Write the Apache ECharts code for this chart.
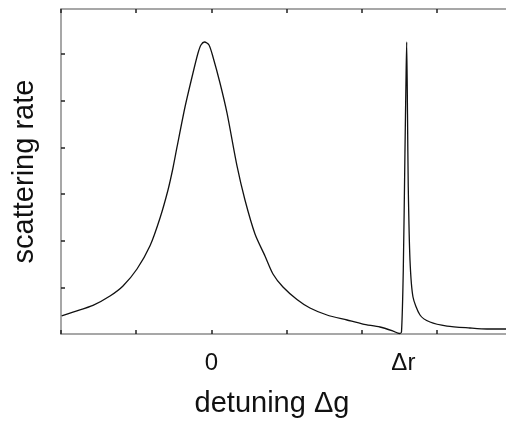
<!DOCTYPE html>
<html>
<head>
<meta charset="utf-8">
<script src="https://cdn.jsdelivr.net/npm/echarts@6/dist/echarts.min.js"></script>
<style>html,body{margin:0;padding:0;background:#fff}#c{width:506px;height:425px}</style>
</head>
<body>
<div id="c"></div>
<script>
// detuning (tick units) and scattering rate (arbitrary units)
const detuning = [-1.991,-1.841,-1.575,-1.349,-1.176,-0.990,-0.817,-0.684,-0.578,-0.512,-0.458,-0.352,-0.246,-0.179,-0.140,-0.093,-0.033,0.020,0.113,0.206,0.339,0.445,0.578,0.711,0.817,0.950,1.136,1.309,1.535,1.801,2.013,2.239,2.412,2.498,2.525,2.549,2.571,2.585,2.594,2.605,2.615,2.638,2.678,2.771,2.904,3.130,3.435,3.661,3.914];
const rate = [0.386,0.471,0.615,0.815,1.030,1.393,1.890,2.486,3.086,3.557,4.007,4.864,5.593,6.021,6.193,6.257,6.193,5.936,5.378,4.736,3.600,2.871,2.143,1.671,1.286,1.007,0.740,0.557,0.407,0.300,0.214,0.150,0.064,0.011,0.043,1.371,3.879,5.443,6.257,4.714,3.150,1.586,0.793,0.407,0.257,0.171,0.129,0.107,0.107];
const xTicks = [-2,-1,0,1,2,3];
const xLabelValues = [0, 2.55];
const xLabelTexts = ['0', 'Δr'];
const yTicks = [1,2,3,4,5,6];

const font = "'Liberation Sans', Arial, sans-serif";
const axisLineStyle = {color:'#8a8a8a', width:1.5};
const tickStyle = {color:'#222', width:1.5};
const chart = echarts.init(document.getElementById('c'));
chart.setOption({
  animation:false,
  grid:{left:61, right:0, top:9, bottom:91},
  xAxis:[{
    type:'value', min:-2, max:3.914, position:'bottom',
    axisLine:{show:true, onZero:false, lineStyle:axisLineStyle},
    axisTick:{show:true, inside:true, length:4, customValues:xTicks, lineStyle:tickStyle},
    axisLabel:{show:true, margin:17, customValues:xLabelValues,
      formatter:function(v){const i=xLabelValues.indexOf(v);return i>=0?xLabelTexts[i]:'';},
      fontFamily:font, fontSize:24, color:'#111'},
    splitLine:{show:false},
    name:'detuning Δg', nameLocation:'middle', nameGap:55,
    nameTextStyle:{fontFamily:font, fontSize:29, color:'#111', padding:[0,23,0,0]}
  },{
    type:'value', min:-2, max:3.914, position:'top',
    axisLine:{show:true, onZero:false, lineStyle:axisLineStyle},
    axisTick:{show:true, inside:true, length:4, customValues:xTicks, lineStyle:tickStyle},
    axisLabel:{show:false}, splitLine:{show:false}
  }],
  yAxis:{
    type:'value', min:0, max:6.964, position:'left',
    axisLine:{show:true, onZero:false, lineStyle:axisLineStyle},
    axisTick:{show:true, inside:true, length:4, customValues:yTicks, lineStyle:tickStyle},
    axisLabel:{show:false}, splitLine:{show:false},
    name:'scattering rate', nameLocation:'middle', nameGap:22,
    nameTextStyle:{fontFamily:font, fontSize:29, color:'#111'}
  },
  series:[{
    type:'line', xAxisIndex:0, showSymbol:false, smooth:0.25,
    data:detuning.map((x,i)=>[x, rate[i]]),
    lineStyle:{color:'#111', width:1.3}
  }]
});
</script>
</body>
</html>
